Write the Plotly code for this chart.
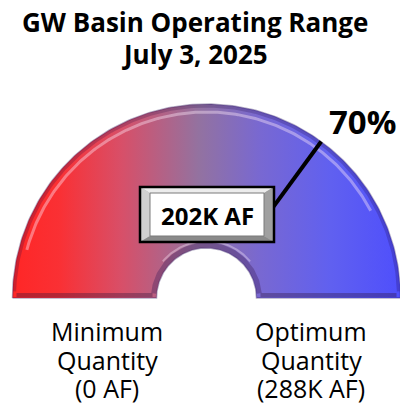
import numpy as np
import plotly.graph_objects as go

# ---- data ----
title_lines = ["GW Basin Operating Range", "July 3, 2025"]
current_kaf = 202
minimum_kaf = 0
maximum_kaf = 288
min_label = ["Minimum", "Quantity", "(0 AF)"]
max_label = ["Optimum", "Quantity", "(288K AF)"]
gradient_colors = [
    [0.0, "#ff2626"], [0.12, "#fa3034"], [0.28, "#d84f68"],
    [0.48, "#9372a0"], [0.64, "#7868d2"], [0.82, "#6060f0"], [1.0, "#4f4ffc"],
]

frac = (current_kaf - minimum_kaf) / (maximum_kaf - minimum_kaf)
pct_text = f"{round(frac * 100)}%"
value_text = f"{current_kaf}K AF"

# ---- geometry (pixel space of the 408x406 window) ----
W, H = 408, 406
PAD = 8  # default page body margin
cx, cy = 206.5, 298
R_out, R_in = 194, 50

def arc(r, a0, a1, n=200):
    t = np.linspace(a0, a1, n)
    return cx + r * np.cos(t), cy - r * np.sin(t)

ox, oy = arc(R_out, np.pi, 0)
ix, iy = arc(R_in, 0, np.pi)
px = np.concatenate([ox, ix, ox[:1]])
py = np.concatenate([oy, iy, oy[:1]])

fig = go.Figure()
fig.add_trace(go.Scatter(
    x=px, y=py, mode="lines", fill="toself",
    line=dict(color="rgba(40,20,90,0.35)", width=1.5),
    fillgradient=dict(type="horizontal", colorscale=gradient_colors),
    hoverinfo="skip", showlegend=False))

# bevel: highlight band near outer edge
hx, hy = arc(R_out - 8, np.radians(28), np.radians(165))
fig.add_trace(go.Scatter(x=hx, y=hy, mode="lines",
    line=dict(color="rgba(255,235,250,0.4)", width=3),
    hoverinfo="skip", showlegend=False))
hx2, hy2 = arc(R_out - 2, np.radians(2), np.radians(178))
fig.add_trace(go.Scatter(x=hx2, y=hy2, mode="lines",
    line=dict(color="rgba(30,10,70,0.22)", width=3),
    hoverinfo="skip", showlegend=False))
# inner rim shading
ixr, iyr = arc(R_in + 3, np.radians(5), np.radians(175))
fig.add_trace(go.Scatter(x=ixr, y=iyr, mode="lines",
    line=dict(color="rgba(60,30,90,0.35)", width=5),
    hoverinfo="skip", showlegend=False))
ixh, iyh = arc(R_in + 7, np.radians(40), np.radians(140))
fig.add_trace(go.Scatter(x=ixh, y=iyh, mode="lines",
    line=dict(color="rgba(255,240,255,0.35)", width=2),
    hoverinfo="skip", showlegend=False))
# bottom bevel strips
for x0, x1 in [(cx - R_out + 4, cx - R_in - 4), (cx + R_in + 4, cx + R_out - 4)]:
    fig.add_trace(go.Scatter(x=[x0, x1], y=[cy - 3, cy - 3], mode="lines",
        line=dict(color="rgba(50,20,60,0.35)", width=4),
        hoverinfo="skip", showlegend=False))

# needle
tn = np.pi * (1 - frac)
nr = np.array([100, R_out])
fig.add_trace(go.Scatter(x=cx + nr * np.cos(tn), y=cy - nr * np.sin(tn), mode="lines",
    line=dict(color="black", width=4), hoverinfo="skip", showlegend=False))
tip_x = cx + R_out * np.cos(tn)
tip_y = cy - R_out * np.sin(tn)

# value box (beveled)
bx, by, bw, bh = 207, 214.5, 67, 27.5
ih, iv = 10, 6
x0, x1, y0, y1 = bx - bw, bx + bw, by - bh, by + bh
X0, X1, Y0, Y1 = x0 + ih, x1 - ih, y0 + iv, y1 - iv
shapes = [
    dict(type="rect", x0=x0, x1=x1, y0=y0, y1=y1, fillcolor="#b4b4b4", line=dict(width=0)),
    dict(type="path", path=f"M{x0},{y0} L{x1},{y0} L{X1},{Y0} L{X0},{Y0} Z", fillcolor="#ececec", line=dict(width=0)),
    dict(type="path", path=f"M{x0},{y0} L{X0},{Y0} L{X0},{Y1} L{x0},{y1} Z", fillcolor="#d0d0d0", line=dict(width=0)),
    dict(type="path", path=f"M{x1},{y0} L{x1},{y1} L{X1},{Y1} L{X1},{Y0} Z", fillcolor="#a0a0a0", line=dict(width=0)),
    dict(type="path", path=f"M{x0},{y1} L{X0},{Y1} L{X1},{Y1} L{x1},{y1} Z", fillcolor="#8a8a8a", line=dict(width=0)),
    dict(type="rect", x0=X0, x1=X1, y0=Y0, y1=Y1, fillcolor="white", line=dict(color="#7a7a7a", width=1)),
    dict(type="rect", x0=x0, x1=x1, y0=y0, y1=y1, fillcolor="rgba(0,0,0,0)", line=dict(color="black", width=2.5)),
]
for s in shapes:
    s.update(xref="x", yref="y", layer="above")

ann = []
FB = "Open Sans"
ann.append(dict(x=bx, y=by + 1, text=f"<b>{value_text}</b>", font=dict(family=FB, size=24, color="black")))
ann.append(dict(x=tip_x + 6, y=tip_y - 20, text=f"<b>{pct_text}</b>", xanchor="left",
                font=dict(family=FB, size=33, color="black")))
ann.append(dict(x=195, y=22, text=f"<b>{title_lines[0]}</b>", font=dict(family=FB, size=26, color="black")))
ann.append(dict(x=195, y=54, text=f"<b>{title_lines[1]}</b>", font=dict(family=FB, size=26, color="black")))
for i, (a, b) in enumerate(zip(min_label, max_label)):
    yy = 331 + i * 28.5
    ann.append(dict(x=107, y=yy, text=a, font=dict(family=FB, size=25, color="black")))
    ann.append(dict(x=311, y=yy, text=b, font=dict(family=FB, size=25, color="black")))
for a in ann:
    a.update(xref="x", yref="y", showarrow=False)

fig.update_layout(
    width=W - PAD, height=H - PAD, margin=dict(l=0, r=0, t=0, b=0),
    paper_bgcolor="white", plot_bgcolor="white",
    xaxis=dict(range=[PAD, W], visible=False, fixedrange=True),
    yaxis=dict(range=[H, PAD], visible=False, fixedrange=True),
    shapes=shapes, annotations=ann, showlegend=False,
)
fig.write_html("out.html")
